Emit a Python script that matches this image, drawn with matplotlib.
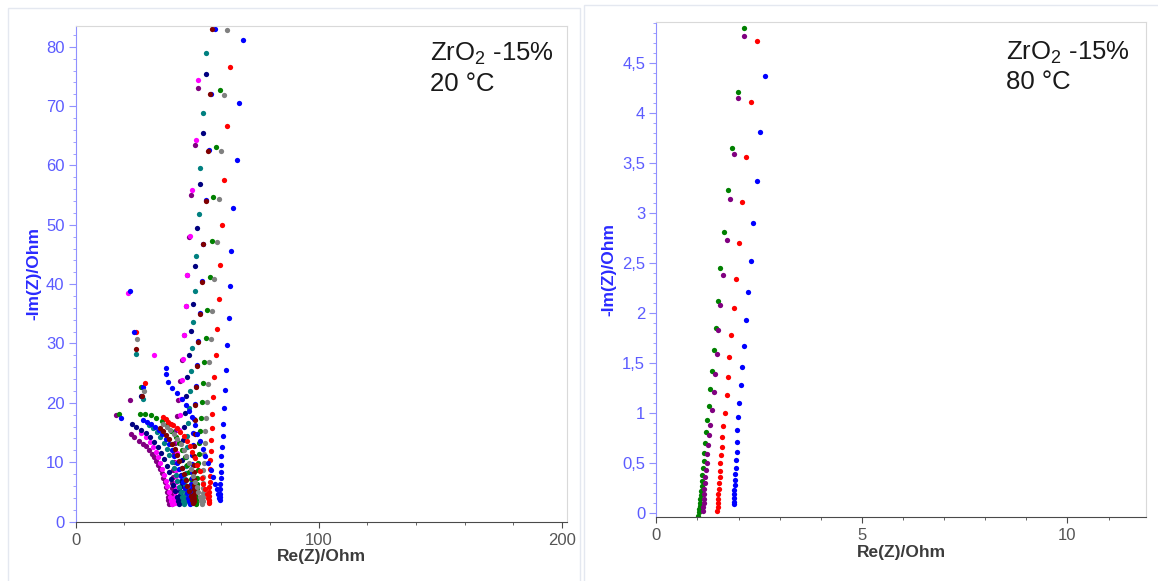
import matplotlib
matplotlib.use('Agg')
import matplotlib.pyplot as plt
from matplotlib.ticker import MultipleLocator, FuncFormatter
from matplotlib.patches import Rectangle

plt.rcParams['font.family'] = ['Liberation Sans', 'DejaVu Sans']
plt.rcParams['mathtext.fontset'] = 'custom'
plt.rcParams['mathtext.rm'] = 'Liberation Sans'

# ---- 20 C spectra (Re, -Im), high frequency first ----
purple_20_re = [16.5, 22.2,
                22.6, 24.2, 26.1, 27.7, 29.1, 30.3, 31.4, 32.4, 33.2, 34.0, 34.8, 35.5, 36.0, 36.6, 37.1, 37.5, 37.8, 38.2, 38.6,
                39.6, 39.6, 39.6, 39.6, 39.7, 39.8, 39.9, 40.1, 40.3, 40.6, 40.9, 41.3, 41.8, 42.3, 42.9, 43.6, 44.4, 45.2, 46.0, 46.7, 47.6, 49.0, 50.2]
purple_20_im = [18.0, 20.5,
                14.8, 14.3, 13.6, 13.1, 12.7, 12.0, 11.4, 10.8, 10.2, 9.5, 8.9, 8.1, 7.4, 6.6, 5.8, 5.0, 4.2, 3.6, 3.0,
                3.0, 3.5, 4.1, 4.8, 5.6, 6.5, 7.5, 8.7, 10.0, 11.5, 13.3, 15.4, 17.8, 20.5, 23.7, 27.3, 31.4, 36.4, 41.6, 48.0, 55.0, 63.4, 73.0]

magenta_20_re = [21.5, 32.2,
                 27.0, 28.8, 30.4, 31.8, 33.0, 34.0, 34.9, 35.7, 36.4, 37.1, 37.7, 38.3, 38.8, 39.3, 39.8,
                 41.0, 41.0, 41.0, 41.0, 41.1, 41.2, 41.3, 41.4, 41.6, 41.8, 42.1, 42.4, 42.8, 43.2, 43.6, 44.0, 44.6, 45.4, 46.0, 47.1, 48.0, 49.4, 50.2]
magenta_20_im = [38.5, 28.0,
                 14.9, 14.2, 13.4, 12.6, 11.7, 10.8, 9.9, 8.9, 7.9, 6.9, 5.9, 5.0, 4.2, 3.5, 3.0,
                 3.1, 3.6, 4.2, 4.9, 5.7, 6.6, 7.6, 8.7, 10.1, 11.6, 13.4, 15.5, 17.9, 20.6, 23.8, 27.4, 31.4, 36.4, 41.6, 48.1, 55.9, 64.3, 74.4]

navy_20_re = [26.9,
              23.0, 25.0, 27.0, 29.0, 30.8, 32.4, 33.9, 35.2, 36.4, 37.5, 38.5, 39.4, 40.2, 40.9, 41.6, 42.2, 42.7,
              43.0, 43.0, 43.0, 43.1, 43.2, 43.3, 43.4, 43.6, 43.8, 44.0, 44.3, 44.6, 45.0, 45.5, 46.0, 46.6, 47.3, 48.3, 49.0, 49.8, 51.2, 52.3, 53.8]
navy_20_im = [21.2,
              16.4, 16.0, 15.5, 14.9, 14.2, 13.4, 12.5, 11.5, 10.5, 9.4, 8.3, 7.2, 6.1, 5.1, 4.2, 3.5, 3.0,
              3.3, 3.8, 4.4, 5.1, 5.9, 6.8, 7.8, 9.0, 10.4, 12.0, 13.8, 15.9, 18.3, 21.1, 24.3, 28.0, 32.1, 36.7, 43.0, 49.5, 56.9, 65.5, 75.4]

teal_20_re = [24.8, 27.6,
              30.0, 31.8, 33.4, 34.9, 36.2, 37.4, 38.5, 39.5, 40.4, 41.2, 41.9, 42.6, 43.2, 43.7, 44.2, 44.6,
              44.9, 44.9, 44.9, 44.9, 45.0, 45.1, 45.2, 45.3, 45.5, 45.7, 45.9, 46.2, 46.5, 46.9, 47.3, 47.8, 48.3, 49.0, 49.5, 50.6, 51.2, 52.2, 53.5]
teal_20_im = [28.2, 20.6,
              16.2, 15.7, 15.0, 14.2, 13.3, 12.3, 11.2, 10.1, 9.0, 7.9, 6.8, 5.8, 4.9, 4.1, 3.4, 2.9,
              3.3, 3.9, 4.5, 5.3, 6.1, 7.1, 8.2, 9.4, 10.8, 12.5, 14.4, 16.6, 19.1, 22.0, 25.4, 29.3, 33.7, 38.9, 44.8, 51.8, 59.5, 68.8, 78.9]

green_20_re = [17.9, 26.9,
               26.5, 28.6, 30.9, 33.2, 35.4, 37.5, 39.4, 41.1, 42.6, 43.9, 45.0, 46.0, 46.8, 47.5, 48.1, 48.6, 49.0, 49.3, 49.5,
               49.7, 49.7, 49.7, 49.7, 49.8, 49.9, 50.0, 50.2, 50.4, 50.6, 50.9, 51.2, 51.6, 52.0, 52.5, 53.0, 53.6, 54.2, 55.4, 55.9, 56.7, 57.8, 59.2, 60.8]
green_20_im = [18.2, 22.6,
               18.2, 18.1, 17.9, 17.5, 16.9, 16.2, 15.3, 14.3, 13.2, 12.0, 10.8, 9.6, 8.4, 7.2, 6.1, 5.1, 4.2, 3.5, 3.0,
               3.1, 3.6, 4.2, 4.8, 5.6, 6.4, 7.4, 8.6, 9.9, 11.4, 13.2, 15.2, 17.5, 20.2, 23.3, 26.9, 31.0, 35.6, 41.2, 47.3, 54.7, 63.1, 72.7, 84.0]

blue_a_20_re = [27.6, 18.6,
                27.6, 29.3, 30.9, 32.7, 34.1, 35.6, 37.0, 38.3, 39.5, 40.6, 41.6, 42.6, 43.5, 44.3, 45.0, 45.7, 46.3, 46.8, 47.2,
                47.5, 47.5, 47.5, 47.5, 47.6, 47.7, 47.8, 47.9, 48.0, 48.2, 48.4, 48.7, 49.0, 49.4, 49.9, 50.5, 51.2, 52.0, 52.5, 53.7, 54.8, 55.8, 57.3]
blue_a_20_im = [22.6, 17.4,
                17.1, 16.8, 16.4, 16.0, 15.4, 14.7, 13.9, 13.0, 12.0, 11.0, 9.9, 8.8, 7.7, 6.7, 5.7, 4.8, 4.0, 3.4, 2.9,
                3.4, 4.0, 4.7, 5.4, 6.3, 7.3, 8.4, 9.7, 11.2, 12.9, 14.9, 17.2, 19.8, 22.9, 26.4, 30.4, 35.2, 40.5, 46.8, 54.1, 62.6, 72.0, 83.0]

maroon_20_re = [24.8, 27.4,
                34.7, 36.0, 37.3, 38.5, 39.6, 40.7, 41.7, 42.7, 43.6, 44.5, 45.3, 46.0, 46.7, 47.3, 47.8, 48.2,
                48.5, 48.5, 48.5, 48.5, 48.5, 48.5, 48.6, 48.6, 48.7, 48.8, 48.9, 49.1, 49.3, 49.6, 49.9, 50.3, 51.0, 51.8, 52.3, 53.5, 54.4, 55.2, 56.1]
maroon_20_im = [29.0, 21.1,
                15.7, 15.2, 14.6, 13.9, 13.1, 12.2, 11.2, 10.2, 9.1, 8.0, 7.0, 6.0, 5.1, 4.3, 3.6, 3.1,
                3.4, 4.0, 4.6, 5.4, 6.2, 7.2, 8.3, 9.6, 11.1, 12.8, 14.8, 17.1, 19.7, 22.7, 26.2, 30.3, 35.0, 40.4, 46.7, 54.0, 62.4, 72.0, 83.0]

grey_20_re = [25.2, 28.3,
              36.0, 37.5, 39.0, 40.5, 41.9, 43.2, 44.4, 45.5, 46.5, 47.5, 48.4, 49.2, 49.9, 50.5, 51.1, 51.5, 51.9,
              52.2, 52.2, 52.2, 52.2, 52.3, 52.4, 52.5, 52.7, 52.9, 53.1, 53.4, 53.7, 54.1, 54.5, 55.0, 55.5, 56.1, 57.1, 58.0, 58.8, 59.9, 61.0, 62.4]
grey_20_im = [30.8, 22.0,
              16.5, 16.0, 15.4, 14.7, 13.9, 13.0, 12.0, 11.0, 9.9, 8.8, 7.7, 6.7, 5.8, 4.9, 4.1, 3.5, 3.0,
              3.5, 4.1, 4.8, 5.6, 6.5, 7.5, 8.6, 9.9, 11.4, 13.2, 15.2, 17.5, 20.1, 23.2, 26.8, 30.8, 35.5, 40.9, 47.1, 54.3, 62.4, 71.9, 82.9]

red_20_re = [25.0, 28.4,
             36.1, 37.2, 38.2, 39.2, 40.2, 41.6, 43.0, 44.4, 45.7, 46.9, 48.0, 49.1, 50.1, 51.0, 51.8, 52.6, 53.3, 53.9, 54.4, 54.8,
             55.0, 55.0, 55.0, 55.0, 55.0, 55.1, 55.2, 55.3, 55.4, 55.6, 55.8, 56.0, 56.3, 56.7, 57.1, 57.6, 58.2, 58.8, 59.3, 60.4, 61.0, 62.4, 63.6]
red_20_im = [32.0, 23.3,
             17.6, 17.2, 16.8, 16.5, 16.2, 15.7, 15.1, 14.4, 13.6, 12.7, 11.7, 10.7, 9.6, 8.5, 7.4, 6.4, 5.5, 4.6, 3.9, 3.3,
             3.2, 3.7, 4.3, 5.0, 5.8, 6.7, 7.7, 8.9, 10.3, 11.9, 13.7, 15.8, 18.2, 21.0, 24.3, 28.1, 32.5, 37.5, 43.2, 49.9, 57.6, 66.6, 76.6]

blue_b_20_re = [22.3, 24.2,
                37.0, 37.1, 38.2, 39.6, 41.6, 43.7, 45.5, 46.8, 47.8, 48.9, 49.9, 51.0, 52.2, 53.3, 54.4, 55.5, 56.5, 57.3, 58.0, 58.6, 59.0,
                59.3, 59.2, 59.2, 59.3, 59.4, 59.6, 59.7, 59.8, 60.0, 60.3, 60.6, 60.8, 61.1, 61.4, 61.9, 62.2, 62.9, 63.5, 64.1, 64.9, 66.2, 67.2, 68.8]
blue_b_20_im = [38.9, 31.9,
                25.9, 24.8, 23.5, 22.5, 21.6, 20.6, 19.6, 18.7, 17.6, 16.3, 14.8, 13.5, 12.2, 11.0, 9.8, 8.6, 7.5, 6.4, 5.4, 4.6, 4.0,
                3.6, 4.1, 4.7, 5.4, 6.3, 7.3, 8.4, 9.6, 11.0, 12.6, 14.4, 16.5, 19.2, 22.1, 25.5, 29.7, 34.3, 39.7, 45.6, 52.8, 61.0, 70.5, 81.1]

# ---- 80 C spectra ----
green_80_re = [2.13, 1.99, 1.84, 1.74, 1.65, 1.56, 1.50, 1.45, 1.39, 1.35, 1.30, 1.28, 1.24, 1.21, 1.18,
               1.17, 1.15, 1.14, 1.12, 1.11, 1.10, 1.09, 1.08, 1.07, 1.06, 1.05, 1.04, 1.03, 1.01]
green_80_im = [4.85, 4.21, 3.65, 3.23, 2.81, 2.45, 2.12, 1.85, 1.63, 1.42, 1.24, 1.07, 0.93, 0.81, 0.70,
               0.60, 0.52, 0.45, 0.38, 0.32, 0.27, 0.22, 0.18, 0.14, 0.10, 0.07, 0.04, 0.01, -0.03]

purple_80_re = [2.13, 1.99, 1.89, 1.78, 1.71, 1.62, 1.56, 1.51, 1.48, 1.43, 1.39, 1.35, 1.30, 1.28,
                1.25, 1.23, 1.22, 1.20, 1.19, 1.18, 1.17, 1.17, 1.16, 1.15, 1.14, 1.14]
purple_80_im = [4.77, 4.15, 3.59, 3.14, 2.73, 2.38, 2.08, 1.83, 1.59, 1.39, 1.21, 1.03, 0.88, 0.78,
                0.68, 0.59, 0.50, 0.43, 0.36, 0.30, 0.24, 0.19, 0.14, 0.10, 0.06, 0.02]

red_80_re = [2.46, 2.30, 2.18, 2.09, 2.00, 1.94, 1.89, 1.82, 1.77, 1.74, 1.71, 1.67, 1.63, 1.60,
             1.59, 1.57, 1.56, 1.55, 1.54, 1.53, 1.52, 1.51, 1.50, 1.49, 1.49, 1.48]
red_80_im = [4.72, 4.11, 3.56, 3.11, 2.70, 2.34, 2.05, 1.78, 1.56, 1.36, 1.18, 1.00, 0.87, 0.76,
             0.66, 0.58, 0.50, 0.42, 0.36, 0.30, 0.24, 0.19, 0.14, 0.10, 0.06, 0.02]

blue_80_re = [2.65, 2.52, 2.44, 2.36, 2.29, 2.24, 2.18, 2.13, 2.09, 2.06, 2.02, 1.99, 1.97,
              1.96, 1.95, 1.93, 1.93, 1.92, 1.91, 1.91, 1.90, 1.89, 1.89, 1.88, 1.88]
blue_80_im = [4.37, 3.81, 3.32, 2.90, 2.52, 2.21, 1.93, 1.67, 1.46, 1.28, 1.10, 0.96, 0.83,
              0.71, 0.61, 0.53, 0.45, 0.39, 0.33, 0.28, 0.23, 0.19, 0.15, 0.11, 0.09]

series_20 = [
    (purple_20_re, purple_20_im, '#800080'),
    (magenta_20_re, magenta_20_im, '#ff00ff'),
    (navy_20_re, navy_20_im, '#000080'),
    (teal_20_re, teal_20_im, '#008080'),
    (green_20_re, green_20_im, '#008000'),
    (blue_a_20_re, blue_a_20_im, '#0000ff'),
    (maroon_20_re, maroon_20_im, '#800000'),
    (grey_20_re, grey_20_im, '#808080'),
    (red_20_re, red_20_im, '#ff0000'),
    (blue_b_20_re, blue_b_20_im, '#0000ff'),
]
series_80 = [
    (green_80_re, green_80_im, '#008000'),
    (purple_80_re, purple_80_im, '#800080'),
    (red_80_re, red_80_im, '#ff0000'),
    (blue_80_re, blue_80_im, '#0000ff'),
]

comma = FuncFormatter(lambda v, pos: ('%g' % v).replace('.', ','))


def style_axes(ax):
    ax.spines['top'].set_color('#d9d9d9')
    ax.spines['right'].set_color('#d9d9d9')
    ax.spines['left'].set_color('#9090ff')
    ax.spines['bottom'].set_color('#4a4a4a')
    ax.tick_params(axis='y', which='both', direction='out', color='#9090ff',
                   labelcolor='#5c5cff', labelsize=12, pad=3)
    ax.tick_params(axis='y', which='major', length=5)
    ax.tick_params(axis='y', which='minor', length=2.5)
    ax.tick_params(axis='x', which='both', direction='out', color='#4a4a4a',
                   labelcolor='#555555', labelsize=12, pad=4)
    ax.tick_params(axis='x', which='major', length=4)
    ax.tick_params(axis='x', which='minor', length=2.5)
    ax.yaxis.set_major_formatter(comma)
    ax.xaxis.set_major_formatter(comma)


fig = plt.figure(figsize=(11.58, 5.81), dpi=100)
ax1 = fig.add_axes([0.0653, 0.1024, 0.4241, 0.8528])
ax2 = fig.add_axes([0.5668, 0.1108, 0.4225, 0.8513])

for re, im, c in series_20:
    ax1.plot(re, im, ls='none', marker='o', ms=3.8, mew=0, color=c)
for re, im, c in series_80:
    ax2.plot(re, im, ls='none', marker='o', ms=3.8, mew=0, color=c)

ax1.set_xlim(0, 202)
ax1.set_ylim(0, 83.5)
ax1.xaxis.set_major_locator(MultipleLocator(100))
ax1.xaxis.set_minor_locator(MultipleLocator(20))
ax1.yaxis.set_major_locator(MultipleLocator(10))
ax1.yaxis.set_minor_locator(MultipleLocator(2))

ax2.set_xlim(0, 11.9)
ax2.set_ylim(-0.036, 4.91)
ax2.xaxis.set_major_locator(MultipleLocator(5))
ax2.xaxis.set_minor_locator(MultipleLocator(1))
ax2.yaxis.set_major_locator(MultipleLocator(0.5))
ax2.yaxis.set_minor_locator(MultipleLocator(0.1))

for ax, ylx, xly, temp, tx, ty1, ty2 in [
        (ax1, -0.069, -0.055, '20 °C', 0.7217, 0.9314, 0.8694),
        (ax2, -0.081, -0.058, '80 °C', 0.7145, 0.9252, 0.8654)]:
    style_axes(ax)
    ax.set_ylabel('-Im(Z)/Ohm', color='#2a2aff', fontweight='bold', fontsize=12.5)
    ax.yaxis.set_label_coords(ylx, 0.5)
    ax.set_xlabel('Re(Z)/Ohm', color='#3c3c3c', fontweight='bold', fontsize=12.5)
    ax.xaxis.set_label_coords(0.5, xly)
    ax.text(tx, ty1, r'ZrO$_\mathregular{2}$ -15%', transform=ax.transAxes,
            fontsize=18.5, color='#1a1a1a', va='baseline')
    ax.text(tx, ty2, temp, transform=ax.transAxes,
            fontsize=18.5, color='#1a1a1a', va='baseline')

# light frames around the two panels
fig.add_artist(Rectangle((0.0069, -0.01), 0.494, 0.996, transform=fig.transFigure,
                         fill=False, edgecolor='#e4e8f0', lw=1))
fig.add_artist(Rectangle((0.5043, -0.01), 0.5, 1.001, transform=fig.transFigure,
                         fill=False, edgecolor='#e4e8f0', lw=1))

fig.savefig('out.png', dpi=100)
